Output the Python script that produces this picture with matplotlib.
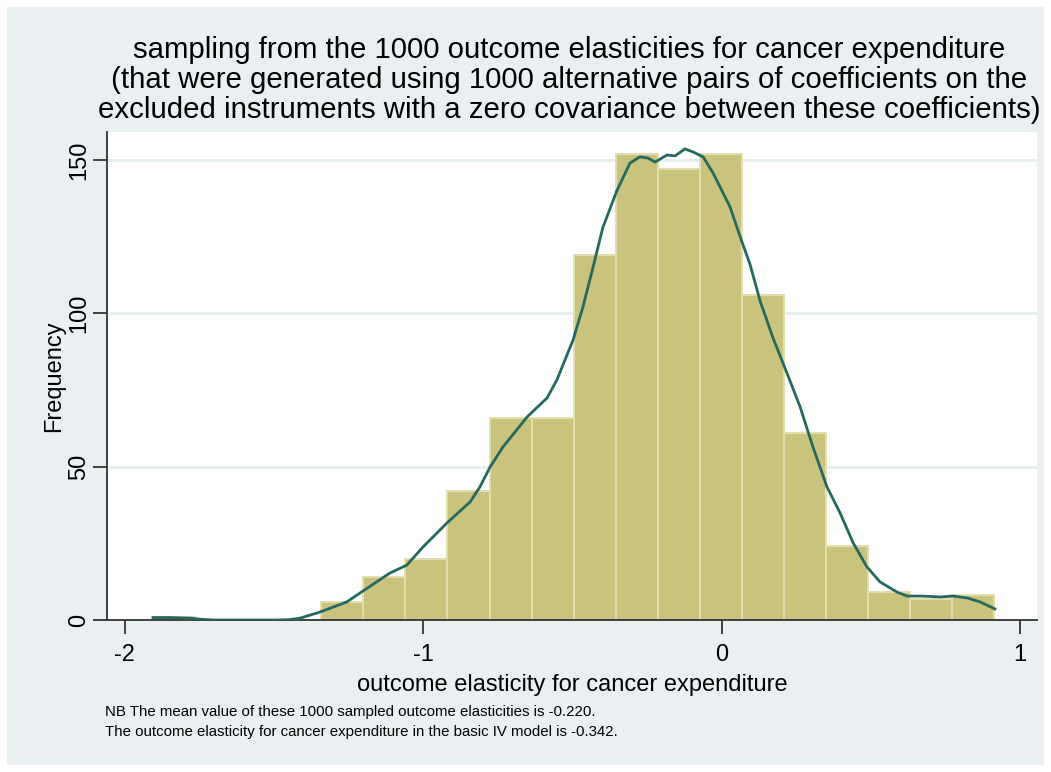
import numpy as np
import matplotlib
matplotlib.use("Agg")
import matplotlib.pyplot as plt
from matplotlib.patches import Rectangle

# histogram of the 1000 sampled elasticities
bin_edges = [-1.906, -1.765, -1.624, -1.483, -1.342, -1.201, -1.060, -0.919,
             -0.778, -0.637, -0.496, -0.355, -0.214, -0.073, 0.068, 0.209,
             0.350, 0.491, 0.632, 0.773, 0.914]
counts = [1, 0, 0, 0, 6, 14, 20, 42, 66, 66, 119, 152, 147, 152, 106, 61,
          24, 9, 7, 8]

# kernel density overlay (frequency scale)
kd_x = [-1.906, -1.85, -1.78, -1.74, -1.70, -1.60, -1.50, -1.45, -1.413,
        -1.346, -1.256, -1.212, -1.112, -1.055, -1.001, -0.921, -0.843,
        -0.810, -0.776, -0.733, -0.652, -0.585, -0.552, -0.498, -0.465,
        -0.431, -0.398, -0.351, -0.307, -0.274, -0.247, -0.223, -0.183,
        -0.156, -0.123, -0.096, -0.062, -0.029, 0.028, 0.062, 0.095, 0.129,
        0.172, 0.219, 0.263, 0.306, 0.353, 0.397, 0.441, 0.487, 0.531,
        0.588, 0.622, 0.675, 0.732, 0.776, 0.823, 0.866, 0.916]
kd_y = [0.8, 0.8, 0.6, 0.2, 0.0, 0.0, 0.0, 0.1, 0.6,
        2.6, 5.9, 8.8, 15.3, 17.9, 23.8, 31.6, 38.5,
        43.4, 49.9, 56.4, 66.2, 72.4, 78.3, 91.3, 102,
        115, 128, 140, 149, 151, 150.6, 149.3, 151.6,
        151.3, 153.6, 152.6, 151, 145.8, 134.7, 125, 116, 104,
        92, 80.5, 69.5, 56.4, 43.4, 34.9, 25.1, 17.3, 12.4,
        9.1, 7.8, 7.8, 7.5, 7.8, 7.2, 5.9, 3.6]

x_ticks = [-2, -1, 0, 1]
y_ticks = [0, 50, 100, 150]

title = ("sampling from the 1000 outcome elasticities for cancer expenditure\n"
         "(that were generated using 1000 alternative pairs of coefficients on the\n"
         "excluded instruments with a zero covariance between these coefficients)")
note = ("NB The mean value of these 1000 sampled outcome elasticities is -0.220.\n"
        "The outcome elasticity for cancer expenditure in the basic IV model is -0.342.")

plt.rcParams['font.family'] = ['Liberation Sans', 'DejaVu Sans']
plt.rcParams['axes.unicode_minus'] = False

W, H = 1051, 772
fig = plt.figure(figsize=(W / 100, H / 100), dpi=100)
fig.patch.set_facecolor('white')
fig.patches.append(Rectangle((7 / W, 7 / H), 1 - 14 / W, 1 - 14 / H,
                             transform=fig.transFigure, facecolor='#EAF0F2',
                             edgecolor='none', zorder=-10))

ax = fig.add_axes([107 / W, 1 - 620 / H, 930 / W, 488 / H])
ax.set_facecolor('white')

edges = np.array(bin_edges)
ax.bar(edges[:-1], counts, width=np.diff(edges), align='edge',
       color='#C9C37E', edgecolor='#E2DEAE', linewidth=1.4, zorder=2)
ax.plot(kd_x, kd_y, color='#23695E', linewidth=2.0, zorder=3)

ax.set_xlim(-2.060, 1.057)
ax.set_ylim(0, 159.1)
ax.set_xticks(x_ticks)
ax.set_yticks(y_ticks)
ax.set_yticklabels([str(v) for v in y_ticks], rotation=90, va='center')

for v in y_ticks[1:]:
    ax.axhline(v, color='#E6EEF0', linewidth=2, zorder=1)

for s in ['top', 'right']:
    ax.spines[s].set_visible(False)
for s in ['left', 'bottom']:
    ax.spines[s].set_color('#333333')
    ax.spines[s].set_linewidth(1.3)
ax.tick_params(axis='both', length=10, width=1.3, color='#333333',
               labelsize=17)
ax.tick_params(axis='x', pad=7)
ax.tick_params(axis='y', pad=2)

ax.set_xlabel('outcome elasticity for cancer expenditure', fontsize=17,
              labelpad=6)
ax.set_ylabel('Frequency', fontsize=17, labelpad=2)

fig.text(569 / W, 1 - 80 / H, title, ha='center', va='center',
         fontsize=21.2, linespacing=1.1)
fig.text(105 / W, 1 - 722 / H, note, ha='left', va='center', fontsize=10.8,
         linespacing=1.5)

fig.savefig('out.png', dpi=100, facecolor=fig.get_facecolor())
